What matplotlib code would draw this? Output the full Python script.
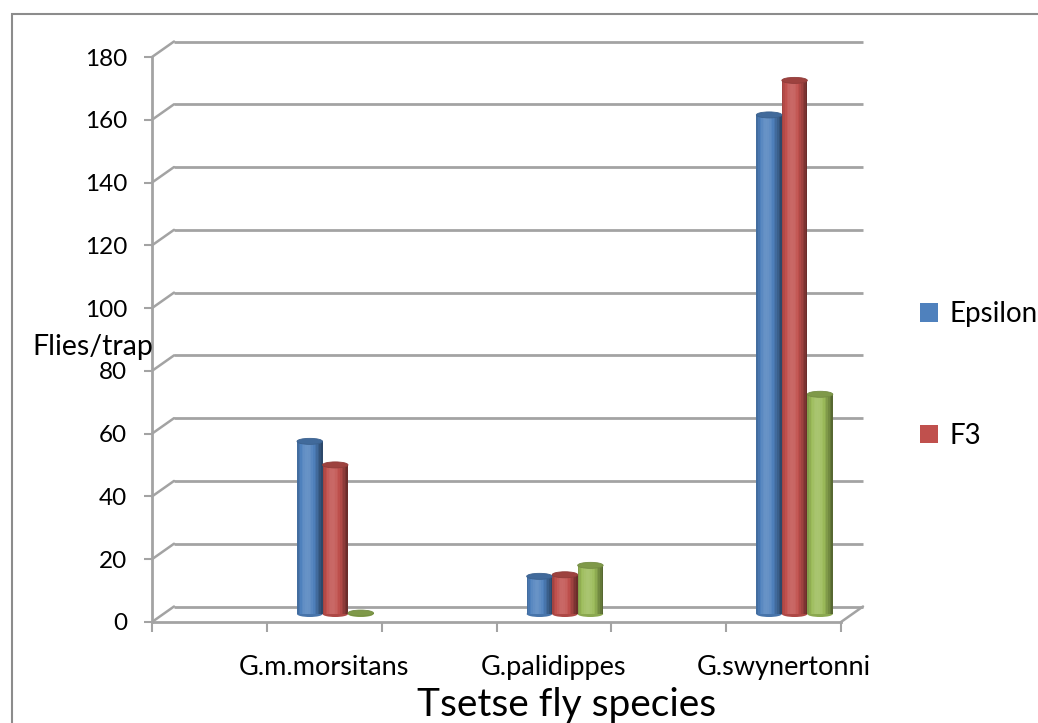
import numpy as np
import matplotlib
matplotlib.use("Agg")
import matplotlib.pyplot as plt
from matplotlib.patches import Rectangle, Ellipse, Patch
from matplotlib.transforms import ScaledTranslation
from matplotlib.colors import to_rgb

plt.rcParams['font.family'] = ['Lato', 'DejaVu Sans']

# data
categories = ["G.m.morsitans", "G.palidippes", "G.swynertonni"]
series_names = ["Epsilon", "F3", "Series3"]
epsilon = [55, 12, 159]
f3 = [47.5, 12.5, 170]
series3 = [0.3, 15.5, 70]
yticks = list(range(0, 181, 20))
colors = ["#4F81BD", "#C0504D", "#9BBB59"]
legend_names = ["Epsilon", "F3"]

values = [epsilon, f3, series3]
n_slots = 2 * len(categories)   # excel shows a blank slot before each species

W, H = 1038, 723
fig = plt.figure(figsize=(W / 100, H / 100), dpi=100)
ax = fig.add_axes([152 / W, (H - 622) / H, 689 / W, 565 / H])
ax.set_xlim(0, n_slots)
ax.set_ylim(0, 180)

grid_c = "#a3a3a3"
# 3d depth offsets (pixels -> inches)
back_t = ax.transData + ScaledTranslation(0.22, 0.155, fig.dpi_scale_trans)
mid_t = ax.transData + ScaledTranslation(0.11, 0.08, fig.dpi_scale_trans)

# back wall gridlines + left diagonals
for v in yticks:
    ax.plot([0, n_slots], [v, v], color=grid_c, lw=2, transform=back_t,
            clip_on=False, zorder=1, solid_capstyle='butt')
    ax.annotate('', xy=(0, v), xytext=(22 * 0.72, 15.5 * 0.72),
                textcoords='offset points',
                arrowprops=dict(arrowstyle='-', color=grid_c, lw=1.8,
                                shrinkA=0, shrinkB=0), zorder=1)
# floor right diagonal
ax.annotate('', xy=(n_slots, 0), xytext=(22 * 0.72, 15.5 * 0.72),
            textcoords='offset points',
            arrowprops=dict(arrowstyle='-', color=grid_c, lw=1.8,
                            shrinkA=0, shrinkB=0), zorder=1)


def shade(c, f):
    r = np.array(to_rgb(c))
    if f >= 1:
        return tuple(r + (1 - r) * (f - 1))
    return tuple(r * f)


def cylinder(x0, w, h, color):
    ell_h = 6 / 3.135
    nstrip = 16
    # rounded bottom
    ax.add_patch(Ellipse((x0 + w / 2, 0), w, ell_h, facecolor=shade(color, 0.9),
                         edgecolor='none', transform=mid_t, clip_on=False, zorder=3))
    sw = w / nstrip
    for k in range(nstrip):
        t = (k + 0.5) / nstrip
        f = 0.72 + 0.42 * np.cos((t - 0.4) * np.pi * 1.1)
        ax.add_patch(Rectangle((x0 + k * sw, 0), sw * 1.02, h,
                               facecolor=shade(color, f), edgecolor='none',
                               transform=mid_t, clip_on=False, zorder=4))
    ax.add_patch(Ellipse((x0 + w / 2, h), w, ell_h, facecolor=shade(color, 0.82),
                         edgecolor=shade(color, 0.75), lw=0.6,
                         transform=mid_t, clip_on=False, zorder=5))


bw = 0.222
for ci in range(len(categories)):
    center = 2 * ci + 1 + 0.5
    for si in range(len(values)):
        x0 = center + (si - 1.5) * bw
        cylinder(x0, bw, values[si][ci], colors[si])

# axes styling
for s in ['top', 'right']:
    ax.spines[s].set_visible(False)
for s in ['left', 'bottom']:
    ax.spines[s].set_color(grid_c)
    ax.spines[s].set_linewidth(2)
ax.set_yticks(yticks)
ax.set_yticklabels([str(v) for v in yticks])
ax.tick_params(axis='y', length=6, width=1.5, color=grid_c, pad=12, labelsize=17.5)
ax.set_xticks(range(n_slots + 1))
ax.set_xticklabels([])
ax.tick_params(axis='x', which='major', length=7, width=1.5, color=grid_c)
ax.set_xticks([2 * i + 1.5 for i in range(len(categories))], minor=True)
ax.set_xticklabels(categories, minor=True)
ax.tick_params(axis='x', which='minor', length=0, pad=24, labelsize=19.5)

fig.text(93 / W, 1 - 347 / H, "Flies/trap", fontsize=20.5, ha='center', va='center')
fig.text(567 / W, 1 - 705 / H, "Tsetse fly species", fontsize=28, ha='center', va='center')

handles = [Patch(facecolor=c, edgecolor='none') for c in colors[:len(legend_names)]]
fig.legend(handles, legend_names, loc='upper left', bbox_to_anchor=(909 / W, 1 - 290 / H),
           frameon=False, fontsize=20, labelspacing=3.45, handlelength=0.65,
           handleheight=0.65, handletextpad=0.4, borderaxespad=0)

fig.patches.append(Rectangle((12 / W, -0.1), 1.2, 1 - 14 / H + 0.1, transform=fig.transFigure,
                             fill=False, edgecolor='#8c8c8c', lw=1.5))

fig.savefig("out.png", dpi=100)
